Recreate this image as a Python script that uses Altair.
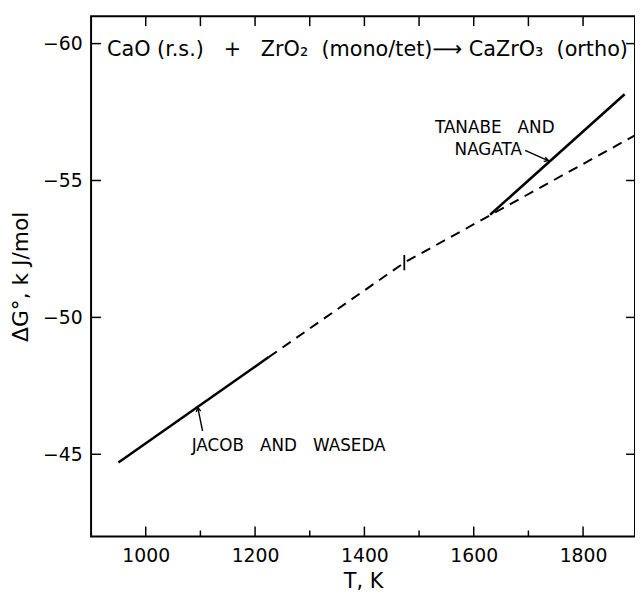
import altair as alt
import pandas as pd

NB = "\u00a0"

# ---- data ----
jacob_T = [950, 1225]
jacob_G = [-44.7, -48.55]

dashed_T = [1225, 1473, 1895]
dashed_G = [-48.55, -52.0, -56.65]

tanabe_T = [1630, 1876]
tanabe_G = [-53.75, -58.15]

cross_T = [1473]
cross_G1 = [-51.72]
cross_G2 = [-52.28]

x_major = [1000, 1200, 1400, 1600, 1800]
x_minor = [1100, 1300, 1500, 1700]
y_major = [-60, -55, -50, -45]

label_text = ["JACOB" + NB * 3 + "AND" + NB * 3 + "WASEDA", "TANABE" + NB * 3 + "AND", "NAGATA"]
label_T = [1084, 1529, 1565]
label_G = [-45.3, -56.9, -56.12]

arrow_T1 = [1104, 1694]
arrow_G1 = [-45.85, -56.1]
arrow_T2 = [1095, 1737]
arrow_G2 = [-46.72, -55.72]
arrow_angle = [349, 110]

title_text = ["CaO (r.s.)" + NB * 3 + "+" + NB * 3 + "ZrO\u2082" + NB * 2 + "(mono/tet)\u27f6" + NB
              + "CaZrO\u2083" + NB * 2 + "(ortho)"]
title_T = [929]
title_G = [-59.75]

W, H = 550, 526
FONT = "DejaVu Sans"

xs = alt.Scale(domain=[900, 1895], nice=False, zero=False)
ys = alt.Scale(domain=[-61, -42], reverse=True, nice=False, zero=False)

xax = alt.Axis(values=x_major, ticks=False, domain=False, grid=False,
               labelFontSize=19, labelFont=FONT, labelColor="black",
               labelPadding=10, title="T," + NB + "K", titleFontSize=21,
               titleFont=FONT, titleFontWeight="normal", titleColor="black",
               titlePadding=6, format="d")
yax = alt.Axis(values=y_major, ticks=False, domain=False, grid=False,
               labelFontSize=19, labelFont=FONT, labelColor="black",
               labelPadding=9, title="\u0394G\u00b0, k J/mol", titleFontSize=22,
               titleFont=FONT, titleFontWeight="normal", titleColor="black",
               titlePadding=10)

df_j = pd.DataFrame({"T": jacob_T, "G": jacob_G})
df_d = pd.DataFrame({"T": dashed_T, "G": dashed_G})
df_t = pd.DataFrame({"T": tanabe_T, "G": tanabe_G})

base_x = alt.X("T:Q", scale=xs, axis=xax)
base_y = alt.Y("G:Q", scale=ys, axis=yax)

jacob = alt.Chart(df_j).mark_line(color="black", strokeWidth=2.5, clip=True).encode(x=base_x, y=base_y)
dashed = alt.Chart(df_d).mark_line(color="black", strokeWidth=2, strokeDash=[10, 7], clip=True).encode(
    x=alt.X("T:Q", scale=xs), y=alt.Y("G:Q", scale=ys))
tanabe = alt.Chart(df_t).mark_line(color="black", strokeWidth=2.5, clip=True).encode(
    x=alt.X("T:Q", scale=xs), y=alt.Y("G:Q", scale=ys))

cross = alt.Chart(pd.DataFrame({"T": cross_T, "G1": cross_G1, "G2": cross_G2})).mark_rule(
    color="black", strokeWidth=1.8).encode(
    x=alt.X("T:Q", scale=xs), y=alt.Y("G1:Q", scale=ys), y2="G2:Q")

labels = alt.Chart(pd.DataFrame({"t": label_text, "T": label_T, "G": label_G})).mark_text(
    align="left", baseline="middle", font=FONT, fontSize=17, color="black").encode(
    x=alt.X("T:Q", scale=xs), y=alt.Y("G:Q", scale=ys), text="t:N")

adf = pd.DataFrame({"T1": arrow_T1, "G1": arrow_G1, "T2": arrow_T2, "G2": arrow_G2, "a": arrow_angle})
shafts = alt.Chart(adf).mark_rule(color="black", strokeWidth=1.4).encode(
    x=alt.X("T1:Q", scale=xs), y=alt.Y("G1:Q", scale=ys), x2="T2:Q", y2="G2:Q")
heads = alt.Chart(adf).mark_point(shape="M-0.45,0.9L0,0L0.45,0.9", filled=False, color="black",
                                  strokeWidth=1.4, size=100, opacity=1).encode(
    x=alt.X("T2:Q", scale=xs), y=alt.Y("G2:Q", scale=ys), angle=alt.Angle("a:Q", scale=None))

title = alt.Chart(pd.DataFrame({"t": title_text, "T": title_T, "G": title_G})).mark_text(
    align="left", baseline="middle", font=FONT, fontSize=21, color="black").encode(
    x=alt.X("T:Q", scale=xs), y=alt.Y("G:Q", scale=ys), text="t:N")

# inward ticks on all four sides
bx_major = alt.Chart(pd.DataFrame({"T": x_major})).mark_rule(color="black", strokeWidth=1.5).encode(
    x=alt.X("T:Q", scale=xs), y=alt.value(H), y2=alt.value(H - 10))
bx_minor = alt.Chart(pd.DataFrame({"T": x_minor})).mark_rule(color="black", strokeWidth=1.5).encode(
    x=alt.X("T:Q", scale=xs), y=alt.value(H), y2=alt.value(H - 6))
tx_major = alt.Chart(pd.DataFrame({"T": x_major})).mark_rule(color="black", strokeWidth=1.5).encode(
    x=alt.X("T:Q", scale=xs), y=alt.value(0), y2=alt.value(10))
tx_minor = alt.Chart(pd.DataFrame({"T": x_minor})).mark_rule(color="black", strokeWidth=1.5).encode(
    x=alt.X("T:Q", scale=xs), y=alt.value(0), y2=alt.value(10))
ly = alt.Chart(pd.DataFrame({"G": y_major})).mark_rule(color="black", strokeWidth=1.5).encode(
    y=alt.Y("G:Q", scale=ys), x=alt.value(0), x2=alt.value(10))
ry = alt.Chart(pd.DataFrame({"G": y_major})).mark_rule(color="black", strokeWidth=1.5).encode(
    y=alt.Y("G:Q", scale=ys), x=alt.value(W - 9), x2=alt.value(W))

chart = alt.layer(
    jacob, dashed, tanabe, cross, labels, shafts, heads, title,
    bx_major, bx_minor, tx_major, tx_minor, ly, ry
).properties(
    width=W, height=H,
    autosize=alt.AutoSizeParams(type="none"),
    padding={"left": 84, "top": 5, "right": 0, "bottom": 64},
    background="white",
).configure_view(stroke="black", strokeWidth=2)

chart.save("out.html", embed_options={"renderer": "svg", "actions": False})
